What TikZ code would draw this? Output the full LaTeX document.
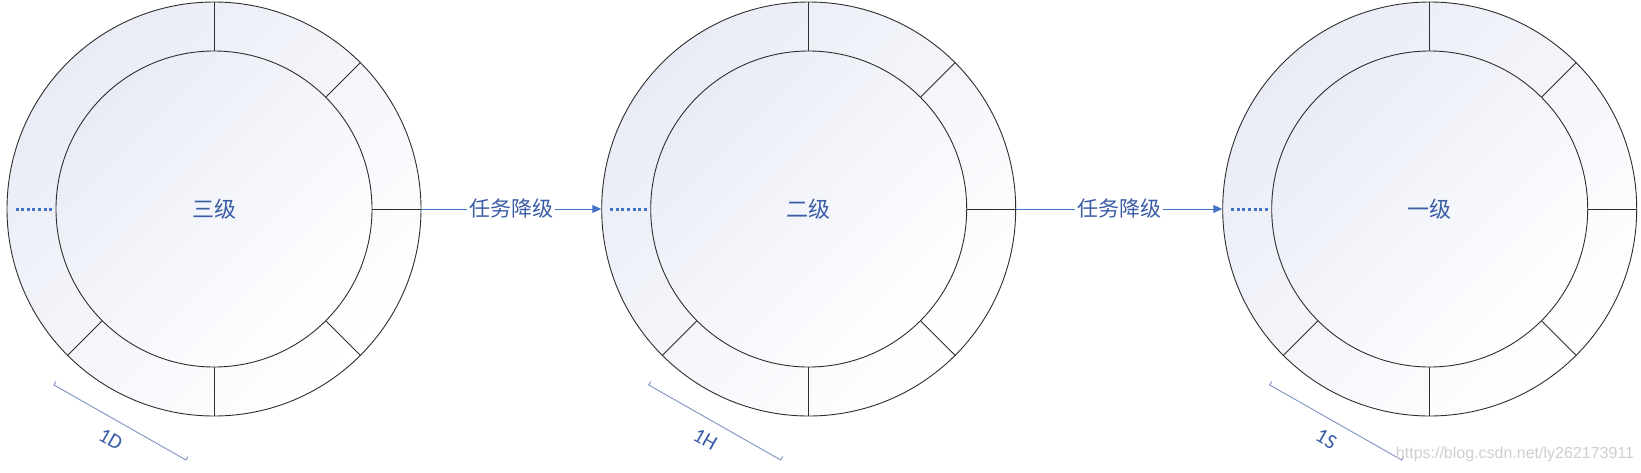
\documentclass[tikz,border=0pt]{standalone}
\usepackage{fontspec}
\setmainfont{Carlito}
\newfontfamily\cjk{Noto Sans CJK SC}
\newfontfamily\wmfont{Liberation Sans}
\usetikzlibrary{arrows.meta}
\definecolor{ringline}{HTML}{2E2E2E}
\definecolor{lav}{HTML}{E9ECF6}
\definecolor{txtblue}{HTML}{3A5DA5}
\definecolor{arrblue}{HTML}{4472C4}
\definecolor{brkcol}{HTML}{7F93BF}
\definecolor{wmgray}{HTML}{CFCFCF}
\tikzset{
  outerc/.style={circle, draw=ringline, line width=0.9pt, minimum size=414pt, inner sep=0pt,
    top color=lav, middle color=lav!20!white, bottom color=white, shading angle=45},
  innerc/.style={circle, draw=ringline, line width=0.9pt, minimum size=316pt, inner sep=0pt,
    top color=lav, middle color=lav!15!white, bottom color=white, shading angle=45,
    text=txtblue, font=\cjk\fontsize{22}{26}\selectfont},
  radial/.style={draw=ringline, line width=0.9pt},
  dotline/.style={draw=arrblue, line width=3pt, dash pattern=on 3pt off 2.6pt},
  arr/.style={draw=arrblue, line width=1pt, -{Triangle[length=9pt,width=8pt]}},
  lbl/.style={fill=white, inner sep=2pt, text=txtblue, font=\cjk\fontsize{21}{25}\selectfont},
  brk/.style={draw=brkcol, line width=0.9pt},
  brklbl/.style={text=txtblue, font=\fontsize{21}{25}\selectfont, inner sep=0pt},
  wm/.style={text=wmgray, font=\wmfont\fontsize{16}{19}\selectfont}
}
\begin{document}
\begin{tikzpicture}[x=1pt, y=-1pt]
\useasboundingbox (0,0) rectangle (1641,472);
\fill[white] (0,0) rectangle (1641,472);
% rings
\foreach \n/\cx/\lab/\blab in {1/214/三级/1D, 2/808.7/二级/1H, 3/1429.7/一级/1S}{
  \node[outerc] (c\n) at (\cx,209) {};
  \node[innerc] (ci\n) at (\cx,209) {\lab};
  \foreach \a in {90,45,0,-45,-90,-135}{
    \draw[radial] (ci\n.\a) -- (c\n.\a);
  }
  \draw[dotline] ([xshift=9pt]c\n.west) -- ([xshift=-2pt]ci\n.west);
  \coordinate (bs\n) at ([shift={(-160,176)}]c\n.center);
  \coordinate (be\n) at ([shift={(-28,251)}]c\n.center);
  \draw[brk] ([shift={(2,-3.5)}]bs\n) -- (bs\n) -- (be\n) -- ([shift={(2,-3.5)}]be\n);
  \path (bs\n) -- node[brklbl, sloped, below=12pt] {\blab} (be\n);
}
% arrows
\draw[arr] (c1.east) -- node[lbl] {任务降级} (c2.west);
\draw[arr] (c2.east) -- node[lbl] {任务降级} (c3.west);
% watermark
\node[wm] (wm) at (1515,454) {https://blog.csdn.net/ly262173911};
\end{tikzpicture}
\end{document}
